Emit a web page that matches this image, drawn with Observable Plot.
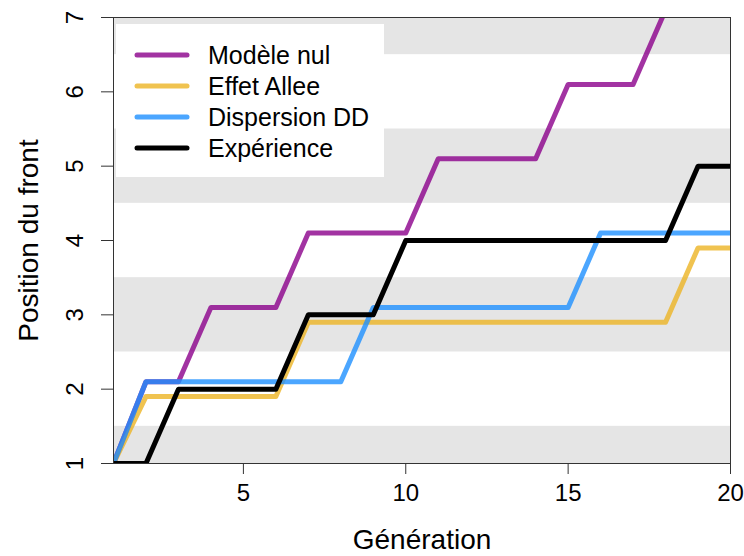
<!DOCTYPE html>
<html>
<head>
<meta charset="utf-8">
<script src="https://cdn.jsdelivr.net/npm/d3@7"></script>
<script src="https://cdn.jsdelivr.net/npm/@observablehq/plot@0.6"></script>
<style>
  html, body { margin: 0; padding: 0; background: #fff; }
  #chart svg { display: block; }
</style>
</head>
<body>
<div id="chart"></div>
<script>
// Generations on the x axis
const generations = [1, 2, 3, 4, 5, 6, 7, 8, 9, 10, 11, 12, 13, 14, 15, 16, 17, 18, 19, 20];

// Front position per generation (models are offset by ±0.1 so the steps stay distinguishable)
const modeleNul   = [1, 2.1, 2.1, 3.1, 3.1, 3.1, 4.1, 4.1, 4.1, 4.1, 5.1, 5.1, 5.1, 5.1, 6.1, 6.1, 6.1, 7.1, 7.1, 7.1];
const effetAllee  = [1, 1.9, 1.9, 1.9, 1.9, 1.9, 2.9, 2.9, 2.9, 2.9, 2.9, 2.9, 2.9, 2.9, 2.9, 2.9, 2.9, 2.9, 3.9, 3.9];
const dispersionDD = [1, 2.1, 2.1, 2.1, 2.1, 2.1, 2.1, 2.1, 3.1, 3.1, 3.1, 3.1, 3.1, 3.1, 3.1, 4.1, 4.1, 4.1, 4.1, 4.1];
const experience  = [1, 1, 2, 2, 2, 2, 3, 3, 3, 4, 4, 4, 4, 4, 4, 4, 4, 4, 5, 5];

const seriesNames  = ["Modèle nul", "Effet Allee", "Dispersion DD", "Expérience"];
const seriesValues = [modeleNul, effetAllee, dispersionDD, experience];
const seriesColors = ["rgba(139,0,139,0.8)", "rgba(236,180,36,0.8)", "rgba(30,144,255,0.8)", "#000000"];

// Axis ticks
const xTicks = [5, 10, 15, 20];
const yTicks = [1, 2, 3, 4, 5, 6, 7];

// Alternating grey bands behind the lines
const bandLow  = [1, 2.5, 4.5, 6.5];
const bandHigh = [1.5, 3.5, 5.5, 7];
const bands = bandLow.map((lo, i) => ({lo, hi: bandHigh[i]}));

// Long-format table for the line marks
const rows = seriesNames.flatMap((name, s) =>
  generations.map((g, i) => ({serie: name, gen: g, pos: seriesValues[s][i]}))
);

const FONT = "'Liberation Sans', Arial, Helvetica, sans-serif";

// Legend drawn inside the top-left corner of the frame
function legend(index, scales, values, dims) {
  const g = d3.create("svg:g");
  const x0 = dims.marginLeft + 3;
  const y0 = dims.marginTop + 7;
  g.append("rect")
    .attr("x", x0).attr("y", y0)
    .attr("width", 268).attr("height", 153)
    .attr("fill", "#ffffff");
  seriesNames.forEach((name, i) => {
    const cy = y0 + 31 + i * 31;
    g.append("line")
      .attr("x1", x0 + 21).attr("x2", x0 + 71)
      .attr("y1", cy).attr("y2", cy)
      .attr("stroke", seriesColors[i])
      .attr("stroke-width", 5)
      .attr("stroke-linecap", "round");
    g.append("text")
      .attr("x", x0 + 92).attr("y", cy + 9)
      .attr("text-anchor", "start")
      .attr("font-size", 25)
      .attr("font-family", FONT)
      .attr("fill", "#000")
      .text(name);
  });
  return g.node();
}

const chart = Plot.plot({
  width: 744,
  height: 556,
  marginLeft: 113,
  marginRight: 14,
  marginTop: 17,
  marginBottom: 93,
  style: {fontFamily: FONT, background: "#fff", color: "#000"},
  x: {domain: [1, 20]},
  y: {domain: [1, 7]},
  color: {domain: seriesNames, range: seriesColors},
  marks: [
    Plot.rect(bands, {y1: "lo", y2: "hi", fill: "#e5e5e5"}),
    Plot.line(rows, {
      x: "gen", y: "pos", z: "serie", stroke: "serie",
      strokeWidth: 5, strokeLinejoin: "round", strokeLinecap: "round",
      clip: true
    }),
    legend,
    Plot.frame({stroke: "#333", strokeWidth: 1}),
    Plot.axisX(xTicks, {
      anchor: "bottom", tickSize: 11, tickPadding: 9, tickFormat: d3.format("d"),
      fontSize: 24, label: null, stroke: "#333"
    }),
    Plot.axisY(yTicks, {
      anchor: "left", tickSize: 12, tickPadding: 19, tickRotate: -90, tickFormat: d3.format("d"),
      fontSize: 24, label: null, stroke: "#333"
    }),
    Plot.text(["Génération"], {
      frameAnchor: "bottom", dy: 77, textAnchor: "middle", lineAnchor: "middle",
      fontSize: 28, fill: "#000"
    }),
    Plot.text(["Position du front"], {
      frameAnchor: "left", dx: -84, textAnchor: "middle", lineAnchor: "middle",
      rotate: -90, fontSize: 28, fill: "#000"
    })
  ]
});

document.getElementById("chart").appendChild(chart);
</script>
</body>
</html>
